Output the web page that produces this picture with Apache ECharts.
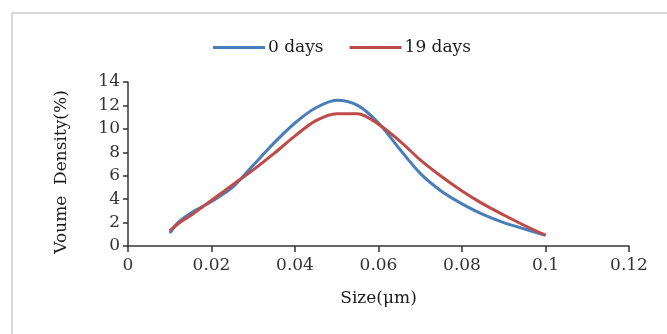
<!DOCTYPE html>
<html>
<head>
<meta charset="utf-8">
<script src="https://cdn.jsdelivr.net/npm/echarts@6/dist/echarts.min.js"></script>
<style>
  html, body { margin: 0; padding: 0; background: #fff; }
  #main { width: 667px; height: 334px; }
</style>
</head>
<body>
<div id="main"></div>
<script>
// particle size (um)
var sizes = [0.010, 0.012, 0.015, 0.020, 0.025, 0.030, 0.035, 0.040, 0.045, 0.050,
             0.055, 0.060, 0.065, 0.070, 0.075, 0.080, 0.085, 0.090, 0.095, 0.100];
// volume density (%)
var day0 = [1.1, 2.0, 2.8, 3.8, 5.0, 6.9, 8.8, 10.5, 11.8, 12.45,
            12.0, 10.5, 8.3, 6.2, 4.7, 3.6, 2.7, 2.0, 1.45, 0.92];
var day19 = [1.3, 1.9, 2.6, 3.9, 5.2, 6.5, 7.9, 9.4, 10.7, 11.3,
             11.3, 10.4, 9.0, 7.35, 5.95, 4.7, 3.6, 2.65, 1.75, 0.92];
var seriesNames = ["0 days", "19 days"];

function pairs(xs, ys) {
  return xs.map(function (x, i) { return [x, ys[i]]; });
}

var font = "DejaVu Serif";
var myChart = echarts.init(document.getElementById("main"));

var option = {
  animation: false,
  graphic: [
    {
      type: "rect",
      shape: { x: 12, y: 13, width: 700, height: 400 },
      style: { fill: "none", stroke: "#d9d9d9", lineWidth: 2 }
    }
  ],
  legend: {
    data: [
      { name: seriesNames[0], icon: "rect" },
      { name: seriesNames[1], icon: "rect" }
    ],
    left: 208,
    top: 34,
    itemWidth: 52,
    itemHeight: 3,
    itemGap: 26,
    textStyle: { fontFamily: font, fontSize: 17, color: "#1a1a1a", padding: [0, 0, 0, -2] }
  },
  grid: { left: 128, right: 38, top: 82, bottom: 88 },
  xAxis: {
    type: "value",
    min: 0,
    max: 0.12,
    interval: 0.02,
    name: "Size(μm)",
    nameLocation: "middle",
    nameGap: 44,
    nameTextStyle: { fontFamily: font, fontSize: 17, color: "#1a1a1a" },
    splitLine: { show: false },
    axisLine: { lineStyle: { color: "#333", width: 1.5 } },
    axisTick: { show: true, length: 6, lineStyle: { color: "#333", width: 1.5 } },
    axisLabel: { fontFamily: font, fontSize: 17, color: "#333", margin: 11 }
  },
  yAxis: {
    type: "value",
    min: 0,
    max: 14,
    interval: 2,
    name: "Voume  Density(%)",
    nameLocation: "middle",
    nameGap: 58,
    nameRotate: 90,
    nameTextStyle: { fontFamily: font, fontSize: 17, color: "#1a1a1a", padding: [0, 16, 0, 0] },
    splitLine: { show: false },
    axisLine: { show: true, lineStyle: { color: "#333", width: 1.5 } },
    axisTick: { show: true, length: 5, lineStyle: { color: "#333", width: 1.5 } },
    axisLabel: { fontFamily: font, fontSize: 17, color: "#333", margin: 8 }
  },
  series: [
    {
      name: seriesNames[0],
      type: "line",
      smooth: 0.3,
      symbol: "none",
      data: pairs(sizes, day0),
      itemStyle: { color: "#4a7ebb" },
      lineStyle: { color: "#4a7ebb", width: 3 }
    },
    {
      name: seriesNames[1],
      type: "line",
      smooth: 0.3,
      symbol: "none",
      data: pairs(sizes, day19),
      itemStyle: { color: "#be4b48" },
      lineStyle: { color: "#be4b48", width: 3 }
    }
  ]
};
myChart.setOption(option);
</script>
</body>
</html>
